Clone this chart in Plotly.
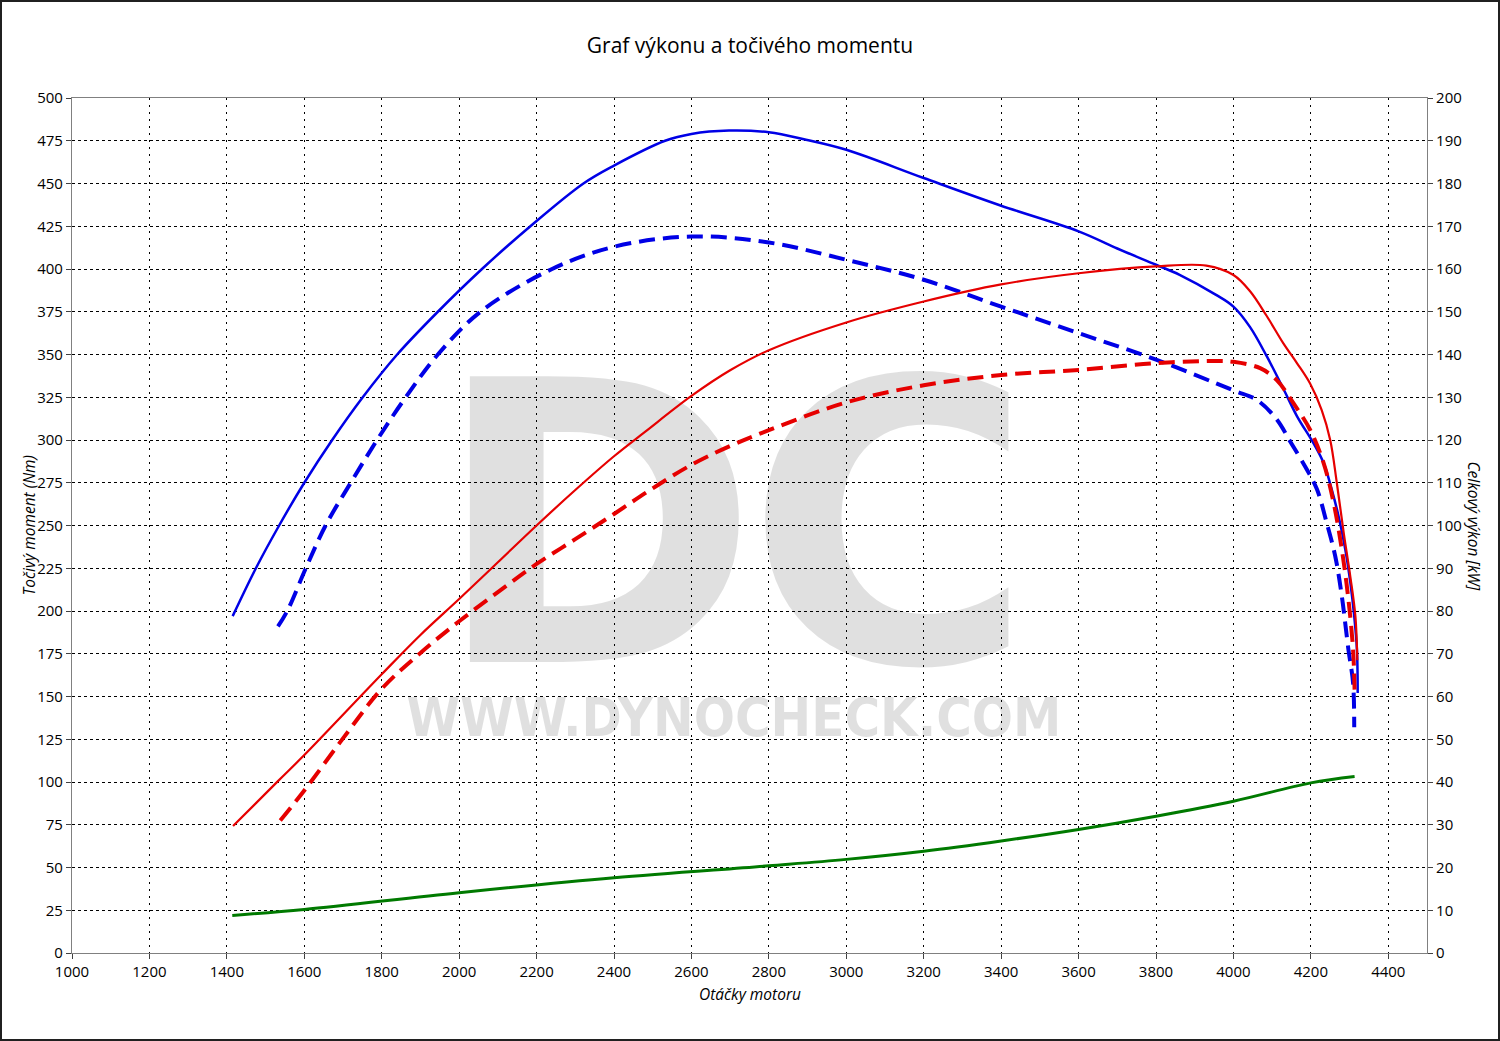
import plotly.graph_objects as go

# ---------------- data ----------------
torque_tuned_rpm = [1415, 1475, 1535, 1600, 1672, 1751, 1840, 1945, 2059, 2184, 2321, 2400, 2532,
                    2600, 2697, 2800, 2896, 3000, 3200, 3400, 3600, 3700, 3800, 3861, 3954, 4000,
                    4043, 4086, 4129, 4164, 4207, 4233, 4254, 4272, 4289, 4302, 4312, 4319, 4321]
torque_tuned = [197, 225, 250, 275, 300, 325, 350, 375, 400, 425, 450, 460.5, 475,
                479.0, 481, 480, 475.6, 469.7, 453.2, 437, 422, 412, 402.5, 396.6, 385, 378,
                366, 349, 330, 314, 298, 286.5, 271, 255, 236, 216.6, 197, 177.5, 152]

torque_stock_rpm = [1532, 1556, 1604, 1655, 1720, 1788, 1862, 1945, 2055, 2240, 2400, 2600, 2800, 3000,
                    3200, 3400, 3600, 3800, 4000, 4060, 4112, 4147, 4190, 4216, 4241, 4263, 4280,
                    4297, 4309, 4312]
torque_stock = [191, 200, 225, 250, 275, 300, 325, 350, 375, 400, 413, 419, 415.5, 405.4,
                393.7, 378, 362.5, 347, 329, 323.5, 312, 299, 282.6, 271, 251.5, 232, 208.6,
                177.5, 158, 132]

power_tuned_rpm = [1416, 1532, 1600, 1800, 1900, 2000, 2100, 2200, 2300, 2400, 2480, 2600, 2700, 2800,
                   3000, 3200, 3400, 3600, 3800, 3930, 4000, 4043, 4086, 4129, 4164, 4198, 4228, 4250,
                   4267, 4285, 4302, 4315, 4320]
power_tuned = [29.7, 40.2, 46.3, 65.2, 74.4, 82.8, 91.4, 100.0, 108.3, 116.2, 121.9, 130.3, 136.3, 141.0,
               147.5, 152.4, 156.4, 159.0, 160.6, 160.8, 158.6, 154.8, 149.0, 142.6, 138.0, 133.2, 127.0,
               120.0, 110.0, 98.2, 88.0, 78.8, 68.5]

power_stock_rpm = [1538, 1600, 1700, 1800, 1900, 2000, 2100, 2200, 2300, 2400, 2500, 2600, 2700,
                   2800, 3000, 3200, 3400, 3600, 3800, 3955, 4000, 4069, 4112, 4155, 4198, 4233,
                   4259, 4280, 4297, 4309, 4313]
power_stock = [31.0, 38.0, 50.2, 61.8, 70.2, 77.6, 84.4, 91.0, 96.8, 102.7, 108.7, 114.2, 118.6,
               122.3, 128.8, 132.8, 135.2, 136.4, 138.0, 138.5, 138.3, 136.8, 134.0, 128.6, 122.4, 114.6,
               105.2, 94.4, 82.7, 71.0, 61.6]

loss_rpm = [1414, 1600, 2000, 2400, 2800, 3000, 3200, 3400, 3600, 3800, 4000, 4200, 4313]
loss_power = [8.8, 10.2, 14.1, 17.6, 20.4, 21.9, 23.8, 26.2, 28.9, 32.0, 35.5, 39.8, 41.3]

x_ticks = list(range(1000, 4401, 200))
y_left_ticks = list(range(0, 501, 25))
y_right_ticks = list(range(0, 201, 10))

title_text = "Graf výkonu a točivého momentu"
x_title = "Otáčky motoru"
y_left_title = "Točivý moment (Nm)"
y_right_title = "Celkový výkon [kW]"
watermark_letters = ["D", "C"]
watermark_url = "WWW.DYNOCHECK.COM"

# ---------------- figure ----------------
FONT = "Open Sans"
SMOOTH = 1.0
WM_COLOR = "rgba(0,0,0,0.12)"
fig = go.Figure()

# watermark (drawn first, below the curves)
fig.add_trace(go.Scatter(
    x=[2355, 3112], y=[227.5, 227.5], mode="text", text=watermark_letters, hoverinfo="skip",
    showlegend=False, textposition="middle center",
    textfont=dict(family="DejaVu Sans", size=392, color=WM_COLOR, weight="bold"),
))
fig.add_trace(go.Scatter(
    x=[2710], y=[135], mode="text", text=[watermark_url], hoverinfo="skip", showlegend=False,
    textposition="middle center",
    textfont=dict(family="DejaVu Sans Condensed", size=54, color=WM_COLOR, weight="bold"),
))

BLUE = "#0000e6"
RED = "#e60000"
GREEN = "#007a00"

fig.add_trace(go.Scatter(x=loss_rpm, y=loss_power, yaxis="y2", mode="lines",
                         line=dict(color=GREEN, width=3, shape="spline", smoothing=SMOOTH),
                         showlegend=False, name="loss"))
fig.add_trace(go.Scatter(x=power_stock_rpm, y=power_stock, yaxis="y2", mode="lines",
                         line=dict(color=RED, width=4, dash="16px,8px", shape="spline", smoothing=SMOOTH),
                         showlegend=False, name="power stock"))
fig.add_trace(go.Scatter(x=power_tuned_rpm, y=power_tuned, yaxis="y2", mode="lines",
                         line=dict(color=RED, width=2.2, shape="spline", smoothing=SMOOTH),
                         showlegend=False, name="power tuned"))
fig.add_trace(go.Scatter(x=torque_stock_rpm, y=torque_stock, mode="lines",
                         line=dict(color=BLUE, width=4, dash="16px,8px", shape="spline", smoothing=SMOOTH),
                         showlegend=False, name="torque stock"))
fig.add_trace(go.Scatter(x=torque_tuned_rpm, y=torque_tuned, mode="lines",
                         line=dict(color=BLUE, width=2.5, shape="spline", smoothing=SMOOTH),
                         showlegend=False, name="torque tuned"))

axis_common = dict(showline=True, linecolor="#808080", linewidth=1.2, ticks="outside",
                   ticklen=5, tickcolor="#404040", tickfont=dict(family=FONT, size=15, color="black"),
                   zeroline=False)

ital = dict(family=FONT, size=15.5, color="black", style="italic")

fig.update_layout(
    width=1500, height=1041,
    margin=dict(l=72, r=73, t=98, b=88),
    paper_bgcolor="white", plot_bgcolor="white",
    font=dict(family=FONT, color="black"),
    title=dict(text=title_text, x=0.5, xanchor="center", y=1 - 46 / 1041, yanchor="middle",
               font=dict(family=FONT, size=21, color="black")),
    xaxis=dict(range=[1000, 4500], tickvals=x_ticks, showgrid=True, gridcolor="black",
               griddash="2px,5px", gridwidth=1.3, mirror=True, **axis_common),
    yaxis=dict(range=[0, 500], tickvals=y_left_ticks, showgrid=True, gridcolor="black",
               griddash="3px,3px", gridwidth=1.3, **axis_common),
    yaxis2=dict(range=[0, 200], tickvals=y_right_ticks, overlaying="y", side="right",
                showgrid=False, **axis_common),
    annotations=[
        dict(text=x_title, xref="paper", yref="paper", x=0.5, y=-41 / 855, xanchor="center",
             yanchor="middle", showarrow=False, font=ital),
        dict(text=y_left_title, xref="paper", yref="paper", x=-44 / 1355, y=0.5, textangle=-90,
             xanchor="center", yanchor="middle", showarrow=False, font=ital),
        dict(text=y_right_title, xref="paper", yref="paper", x=1 + 47 / 1355, y=0.5, textangle=90,
             xanchor="center", yanchor="middle", showarrow=False, font=ital),
    ],
    shapes=[dict(type="rect", xref="paper", yref="paper",
                 x0=-71 / 1355, x1=1 + 72 / 1355, y0=-87 / 855, y1=1 + 97 / 855,
                 line=dict(color="#202020", width=2), fillcolor="rgba(0,0,0,0)", layer="above")],
)

fig.write_html("out.html", config={"displayModeBar": False},
               post_script="document.body.style.margin='0px';")
